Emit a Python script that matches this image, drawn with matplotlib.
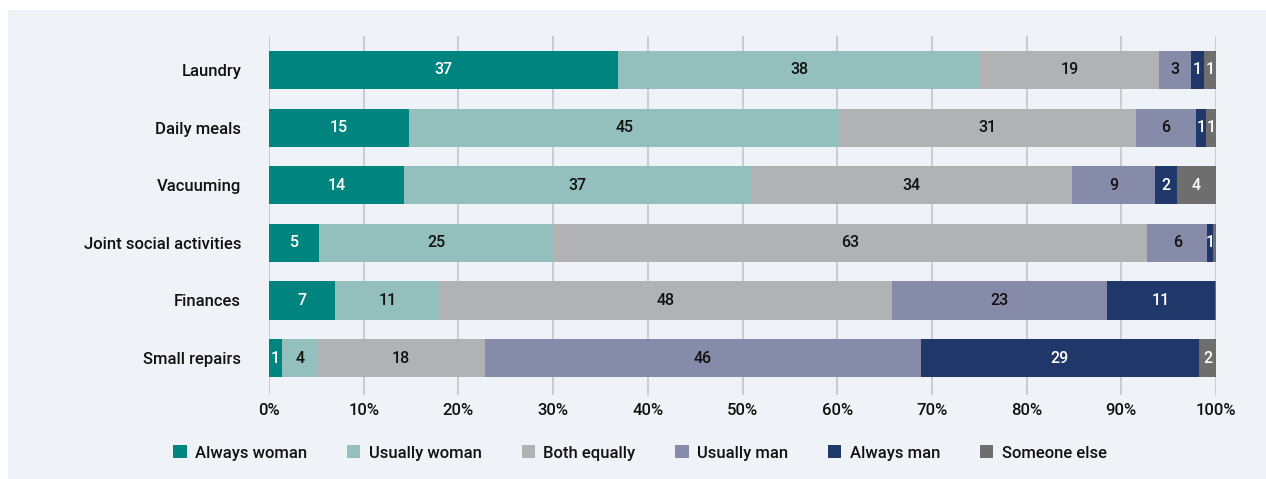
import matplotlib
matplotlib.use("Agg")
import matplotlib.pyplot as plt
from matplotlib.patches import Rectangle
import numpy as np

plt.rcParams['font.family'] = ['Roboto', 'DejaVu Sans']
plt.rcParams['font.weight'] = 'medium'

categories = ["Laundry", "Daily meals", "Vacuuming", "Joint social activities", "Finances", "Small repairs"]
series_names = ["Always woman", "Usually woman", "Both equally", "Usually man", "Always man", "Someone else"]
always_woman = [36.9, 14.8, 14.3, 5.3, 7.0, 1.4]
usually_woman = [38.2, 45.4, 36.6, 24.8, 11.0, 3.7]
both_equally = [18.9, 31.3, 33.9, 62.6, 47.8, 17.7]
usually_man = [3.4, 6.4, 8.8, 6.4, 22.7, 46.0]
always_man = [1.3, 1.0, 2.3, 0.6, 11.4, 29.4]
someone_else = [1.3, 1.1, 4.1, 0.3, 0.1, 1.8]
x_ticks = [0, 10, 20, 30, 40, 50, 60, 70, 80, 90, 100]

series = [always_woman, usually_woman, both_equally, usually_man, always_man, someone_else]
colors = ["#00847f", "#93bfbd", "#b1b2b4", "#858ba9", "#203869", "#6e6e6e"]
label_colors = ["white", "#111111", "#111111", "#111111", "white", "white"]

W, H = 1266, 479
fig = plt.figure(figsize=(W / 100, H / 100), dpi=100)
fig.patch.set_facecolor("white")
fig.patches.append(Rectangle((8 / W, 0), 1 - 8 / W, 1 - 10 / H, transform=fig.transFigure,
                             facecolor="#eff2f7", edgecolor="none", zorder=-10))

ax = fig.add_axes([269 / W, 1 - 395 / H, (1216 - 269) / W, (395 - 36) / H])
ax.set_facecolor("none")

y = np.arange(len(categories))
left = np.zeros(len(categories))
for vals, col, lc in zip(series, colors, label_colors):
    vals = np.array(vals)
    ax.barh(y, vals, left=left, height=0.66, color=col, edgecolor="none", zorder=3)
    for yi, (l, v) in enumerate(zip(left, vals)):
        if v >= 0.5:
            ax.text(l + v / 2, yi, f"{round(v):d}", ha="center", va="center",
                    color=lc, fontsize=11.5, fontweight="medium", zorder=4)
    left = left + vals

ax.set_xlim(0, 100)
ax.set_ylim(5.64, -0.59)
ax.set_xticks(x_ticks)
ax.set_xticklabels([f"{t}%" for t in x_ticks], fontsize=12, color="#111111")
ax.set_yticks(y)
ax.set_yticklabels(categories, fontsize=12, color="#111111")
ax.tick_params(axis="both", length=0)
ax.tick_params(axis="y", pad=20)
ax.tick_params(axis="x", pad=6)
ax.xaxis.grid(True, color="#c8c9cb", linewidth=1.3, zorder=0)
ax.set_axisbelow(True)
for s in ax.spines.values():
    s.set_visible(False)

handles = [Rectangle((0, 0), 1, 1, facecolor=c, edgecolor="none") for c in colors]
fig.legend(handles, series_names, loc="center", bbox_to_anchor=(640 / W, 1 - 453 / H),
           ncol=6, frameon=False, fontsize=12, handlelength=0.8, handleheight=0.8,
           handletextpad=0.5, columnspacing=2.4, labelcolor="#111111")

fig.savefig("out.png", dpi=100, facecolor=fig.get_facecolor())
